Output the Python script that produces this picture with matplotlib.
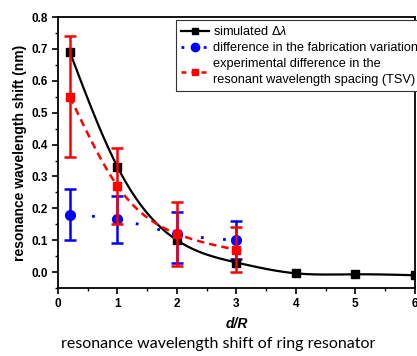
import numpy as np
import matplotlib
matplotlib.use("Agg")
import matplotlib.pyplot as plt
from matplotlib.ticker import MultipleLocator

plt.rcParams['font.family'] = ['Liberation Sans', 'DejaVu Sans']
plt.rcParams['mathtext.fontset'] = 'custom'
plt.rcParams['mathtext.rm'] = 'Liberation Sans'
plt.rcParams['mathtext.it'] = 'Liberation Sans:italic'

# datos
x_sim = [0.2, 1, 2, 3, 4, 5, 6]
y_sim = [0.69, 0.33, 0.10, 0.03, -0.004, -0.007, -0.01]

x_exp = [0.2, 1, 2, 3]
y_fab = [0.18, 0.165, 0.12, 0.10]
fab_lo = [0.10, 0.09, 0.03, 0.04]
fab_hi = [0.26, 0.24, 0.19, 0.16]

y_tsv = [0.55, 0.27, 0.12, 0.07]
tsv_lo = [0.36, 0.15, 0.02, 0.00]
tsv_hi = [0.74, 0.39, 0.22, 0.14]


# spline cubica natural solo para dibujar la linea suave
def smooth(xs, ys, n=200):
    xs = np.asarray(xs, float)
    ys = np.asarray(ys, float)
    k = len(xs)
    h = np.diff(xs)
    A = np.zeros((k, k))
    b = np.zeros(k)
    A[0, 0] = A[-1, -1] = 1
    for i in range(1, k - 1):
        A[i, i - 1] = h[i - 1]
        A[i, i] = 2 * (h[i - 1] + h[i])
        A[i, i + 1] = h[i]
        b[i] = 6 * ((ys[i + 1] - ys[i]) / h[i] - (ys[i] - ys[i - 1]) / h[i - 1])
    M = np.linalg.solve(A, b)
    xx = np.linspace(xs[0], xs[-1], n)
    idx = np.clip(np.searchsorted(xs, xx) - 1, 0, k - 2)
    x0, x1 = xs[idx], xs[idx + 1]
    hh = x1 - x0
    t0, t1 = x1 - xx, xx - x0
    yy = (M[idx] * t0**3 + M[idx + 1] * t1**3) / (6 * hh) \
        + (ys[idx] / hh - M[idx] * hh / 6) * t0 \
        + (ys[idx + 1] / hh - M[idx + 1] * hh / 6) * t1
    return xx, yy


fig = plt.figure(figsize=(4.17, 3.56), dpi=100)
ax = fig.add_axes([0.139, 0.191, 0.856, 0.761])

# simulado
xs, ys = smooth(x_sim, y_sim)
ax.plot(xs, ys, color='black', linewidth=1.6, zorder=3)
ax.plot(x_sim, y_sim, 's', color='black', markersize=6, zorder=3)

# variacion de fabricacion (azul)
xb, yb = smooth(x_exp, y_fab)
ax.plot(xb, yb, color='blue', linewidth=2, linestyle=(0, (1, 7)), zorder=2)
ax.errorbar(x_exp, y_fab,
            yerr=[np.subtract(y_fab, fab_lo), np.subtract(fab_hi, y_fab)],
            fmt='o', color='blue', markersize=7, elinewidth=1.8,
            capsize=4, capthick=1.8, zorder=2)

# diferencia experimental (rojo)
xr, yr = smooth(x_exp, y_tsv)
ax.plot(xr, yr, color='red', linewidth=1.8, linestyle=(0, (3, 2)), zorder=4)
ax.errorbar(x_exp, y_tsv,
            yerr=[np.subtract(y_tsv, tsv_lo), np.subtract(tsv_hi, y_tsv)],
            fmt='s', color='red', markersize=6, elinewidth=1.8,
            capsize=4, capthick=1.8, zorder=4)

# leyenda con simbolos
h1, = ax.plot([], [], '-s', color='black', linewidth=1.6, markersize=5)
h2, = ax.plot([], [], 'o', color='blue', markersize=6, linestyle=(0, (1, 3)), linewidth=2)
h3, = ax.plot([], [], 's', color='red', markersize=5, linestyle=(0, (2, 2)), linewidth=1.8)
leg = ax.legend([h1, h2, h3],
                [r'simulated $\Delta\mathit{\lambda}$',
                 'difference in the fabrication variation',
                 'experimental difference in the\nresonant wavelength spacing (TSV)'],
                loc='upper left', bbox_to_anchor=(0.331, 0.989),
                fontsize=9.2, frameon=True, fancybox=False, framealpha=1,
                edgecolor='#333333', handlelength=2.2, handletextpad=0.25,
                borderpad=0.4, labelspacing=0.3, borderaxespad=0)
leg.get_frame().set_linewidth(0.8)
leg.get_texts()[2].set_linespacing(1.45)

ax.set_xlim(0, 6)
ax.set_ylim(-0.05, 0.8)
ax.xaxis.set_major_locator(MultipleLocator(1))
ax.xaxis.set_minor_locator(MultipleLocator(0.5))
ax.yaxis.set_major_locator(MultipleLocator(0.1))
ax.yaxis.set_minor_locator(MultipleLocator(0.05))
ax.yaxis.set_major_formatter(matplotlib.ticker.FormatStrFormatter('%.1f'))
ax.tick_params(which='major', direction='out', length=4, width=1.2, labelsize=8.5)
ax.tick_params(which='minor', direction='out', length=2.5, width=1.0)
for lab in ax.get_xticklabels() + ax.get_yticklabels():
    lab.set_fontweight('bold')
for s in ax.spines.values():
    s.set_linewidth(1.3)

ax.set_xlabel('d/R', fontsize=10, fontweight='bold', fontstyle='italic', labelpad=5)
ax.set_ylabel('resonance wavelength shift (nm)', fontsize=10, fontweight='bold', labelpad=3)

fig.text(0.523, 0.035, 'resonance wavelength shift of ring resonator',
         ha='center', va='center', fontsize=11.5, family=['Lato', 'DejaVu Sans'])

fig.savefig('out.png', dpi=100)
